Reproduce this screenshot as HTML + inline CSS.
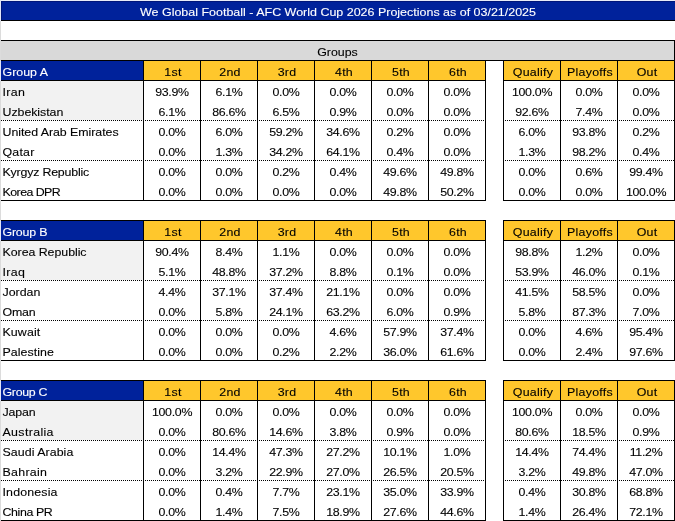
<!DOCTYPE html>
<html lang="en"><head><meta charset="utf-8"><title>AFC World Cup 2026 Projections</title>
<style>
html,body{margin:0;padding:0;background:#fff;}
body{width:675px;height:521px;overflow:hidden;position:relative;}
#sheet{position:absolute;left:0;top:0;width:675px;height:521px;background:#fff;
  font-family:"Liberation Sans",sans-serif;font-size:12.4px;color:#000;
  border-left:1px solid #dcdcdc;border-top:1px solid #e8ecf8;box-sizing:border-box;}
.r{display:flex;height:20px;box-sizing:border-box;width:674px;border-bottom:1px solid #000;position:relative;}
.r .t{position:absolute;top:4px;white-space:nowrap;line-height:15px;transform:scaleY(0.93);transform-origin:50% 12px;-webkit-text-stroke:0.12px currentColor;}
.title{background:#00229b;color:#fff;justify-content:center;}
.title .t{left:0;right:0;text-align:center;}
.blank2{background:#fff;}
.groups{background:#d9d9d9;border-right:1px solid #000;}
.groups .t{left:0;right:0;text-align:center;}
.spacer{border-bottom:none;background:linear-gradient(90deg,#000 0,#000 485px,#fff 485px,#fff 502px,#000 502px,#000 674px) left bottom/674px 1px no-repeat;}
.c{position:relative;box-sizing:border-box;height:20px;width:57px;border-right:1px solid #000;border-bottom:1px solid #000;flex:none;}
.c.name{width:143px;}
.c.gap{width:18px;border-bottom:none;}
.hdr,.team{border-bottom:none;}
.hdr .name{background:#00229b;color:#fff;}
.hdr .h{background:#ffc72c;}
.hdr .gap{background:#fff;}
.c .t{left:0;right:0;text-align:center;}
.c.name .t{left:1.5px;right:auto;text-align:left;}
.team .c{border-bottom:none;background:#fff;}
.team.top .name{background:#f2f2f2;}
.team.last .c{border-bottom:1px solid #000;}
.team.last .gap{border-bottom:none;}
.team.dot .c:not(.gap)::after{content:"";position:absolute;left:0;right:0;bottom:0;height:1px;
  background:repeating-linear-gradient(90deg,#000 0 1px,#fff 1px 2px);}
.team.dot .c:nth-child(2)::after,.team.dot .c:nth-child(4)::after,.team.dot .c:nth-child(6)::after,.team.dot .c:nth-child(9)::after,.team.dot .c:nth-child(11)::after{
  background:repeating-linear-gradient(90deg,#fff 0 1px,#000 1px 2px);}
.c.v .t{letter-spacing:-0.3px;}
.c.h .t{letter-spacing:0.25px;padding-left:2px;}
.title .t{font-size:12.5px;letter-spacing:-0.015px;}
.title{box-shadow:-1px 0 0 #e2e6f8,inset 1px 1px 0 #00167a;}
.hdr .name{box-shadow:-1px 0 0 #e2e6f8;}
</style></head><body>
<div id="sheet">
<div class="r title"><span class="t">We Global Football - AFC World Cup 2026 Projections as of 03/21/2025</span></div>
<div class="r blank2"></div>
<div class="r groups"><span class="t">Groups</span></div>
<div class="r hdr first"><div class="c name"><span class="t">Group A</span></div><div class="c h"><span class="t">1st</span></div><div class="c h"><span class="t">2nd</span></div><div class="c h"><span class="t">3rd</span></div><div class="c h"><span class="t">4th</span></div><div class="c h"><span class="t">5th</span></div><div class="c h"><span class="t">6th</span></div><div class="c gap"></div><div class="c h"><span class="t">Qualify</span></div><div class="c h"><span class="t">Playoffs</span></div><div class="c h"><span class="t">Out</span></div></div>
<div class="r team top"><div class="c name"><span class="t" style="letter-spacing:0.35px">Iran</span></div><div class="c v"><span class="t">93.9%</span></div><div class="c v"><span class="t">6.1%</span></div><div class="c v"><span class="t">0.0%</span></div><div class="c v"><span class="t">0.0%</span></div><div class="c v"><span class="t">0.0%</span></div><div class="c v"><span class="t">0.0%</span></div><div class="c gap"></div><div class="c v"><span class="t">100.0%</span></div><div class="c v"><span class="t">0.0%</span></div><div class="c v"><span class="t">0.0%</span></div></div>
<div class="r team top dot"><div class="c name"><span class="t" style="letter-spacing:-0.05px">Uzbekistan</span></div><div class="c v"><span class="t">6.1%</span></div><div class="c v"><span class="t">86.6%</span></div><div class="c v"><span class="t">6.5%</span></div><div class="c v"><span class="t">0.9%</span></div><div class="c v"><span class="t">0.0%</span></div><div class="c v"><span class="t">0.0%</span></div><div class="c gap"></div><div class="c v"><span class="t">92.6%</span></div><div class="c v"><span class="t">7.4%</span></div><div class="c v"><span class="t">0.0%</span></div></div>
<div class="r team"><div class="c name"><span class="t" style="letter-spacing:-0.05px">United Arab Emirates</span></div><div class="c v"><span class="t">0.0%</span></div><div class="c v"><span class="t">6.0%</span></div><div class="c v"><span class="t">59.2%</span></div><div class="c v"><span class="t">34.6%</span></div><div class="c v"><span class="t">0.2%</span></div><div class="c v"><span class="t">0.0%</span></div><div class="c gap"></div><div class="c v"><span class="t">6.0%</span></div><div class="c v"><span class="t">93.8%</span></div><div class="c v"><span class="t">0.2%</span></div></div>
<div class="r team dot"><div class="c name"><span class="t" style="letter-spacing:0.2px">Qatar</span></div><div class="c v"><span class="t">0.0%</span></div><div class="c v"><span class="t">1.3%</span></div><div class="c v"><span class="t">34.2%</span></div><div class="c v"><span class="t">64.1%</span></div><div class="c v"><span class="t">0.4%</span></div><div class="c v"><span class="t">0.0%</span></div><div class="c gap"></div><div class="c v"><span class="t">1.3%</span></div><div class="c v"><span class="t">98.2%</span></div><div class="c v"><span class="t">0.4%</span></div></div>
<div class="r team"><div class="c name"><span class="t" style="letter-spacing:-0.2px">Kyrgyz Republic</span></div><div class="c v"><span class="t">0.0%</span></div><div class="c v"><span class="t">0.0%</span></div><div class="c v"><span class="t">0.2%</span></div><div class="c v"><span class="t">0.4%</span></div><div class="c v"><span class="t">49.6%</span></div><div class="c v"><span class="t">49.8%</span></div><div class="c gap"></div><div class="c v"><span class="t">0.0%</span></div><div class="c v"><span class="t">0.6%</span></div><div class="c v"><span class="t">99.4%</span></div></div>
<div class="r team last"><div class="c name"><span class="t" style="letter-spacing:-0.55px">Korea DPR</span></div><div class="c v"><span class="t">0.0%</span></div><div class="c v"><span class="t">0.0%</span></div><div class="c v"><span class="t">0.0%</span></div><div class="c v"><span class="t">0.0%</span></div><div class="c v"><span class="t">49.8%</span></div><div class="c v"><span class="t">50.2%</span></div><div class="c gap"></div><div class="c v"><span class="t">0.0%</span></div><div class="c v"><span class="t">0.0%</span></div><div class="c v"><span class="t">100.0%</span></div></div>
<div class="r spacer"></div>
<div class="r hdr"><div class="c name"><span class="t" style="letter-spacing:-0.2px">Group B</span></div><div class="c h"><span class="t">1st</span></div><div class="c h"><span class="t">2nd</span></div><div class="c h"><span class="t">3rd</span></div><div class="c h"><span class="t">4th</span></div><div class="c h"><span class="t">5th</span></div><div class="c h"><span class="t">6th</span></div><div class="c gap"></div><div class="c h"><span class="t">Qualify</span></div><div class="c h"><span class="t">Playoffs</span></div><div class="c h"><span class="t">Out</span></div></div>
<div class="r team top"><div class="c name"><span class="t" style="letter-spacing:-0.05px">Korea Republic</span></div><div class="c v"><span class="t">90.4%</span></div><div class="c v"><span class="t">8.4%</span></div><div class="c v"><span class="t">1.1%</span></div><div class="c v"><span class="t">0.0%</span></div><div class="c v"><span class="t">0.0%</span></div><div class="c v"><span class="t">0.0%</span></div><div class="c gap"></div><div class="c v"><span class="t">98.8%</span></div><div class="c v"><span class="t">1.2%</span></div><div class="c v"><span class="t">0.0%</span></div></div>
<div class="r team top dot"><div class="c name"><span class="t" style="letter-spacing:0.35px">Iraq</span></div><div class="c v"><span class="t">5.1%</span></div><div class="c v"><span class="t">48.8%</span></div><div class="c v"><span class="t">37.2%</span></div><div class="c v"><span class="t">8.8%</span></div><div class="c v"><span class="t">0.1%</span></div><div class="c v"><span class="t">0.0%</span></div><div class="c gap"></div><div class="c v"><span class="t">53.9%</span></div><div class="c v"><span class="t">46.0%</span></div><div class="c v"><span class="t">0.1%</span></div></div>
<div class="r team"><div class="c name"><span class="t">Jordan</span></div><div class="c v"><span class="t">4.4%</span></div><div class="c v"><span class="t">37.1%</span></div><div class="c v"><span class="t">37.4%</span></div><div class="c v"><span class="t">21.1%</span></div><div class="c v"><span class="t">0.0%</span></div><div class="c v"><span class="t">0.0%</span></div><div class="c gap"></div><div class="c v"><span class="t">41.5%</span></div><div class="c v"><span class="t">58.5%</span></div><div class="c v"><span class="t">0.0%</span></div></div>
<div class="r team dot"><div class="c name"><span class="t" style="letter-spacing:-0.2px">Oman</span></div><div class="c v"><span class="t">0.0%</span></div><div class="c v"><span class="t">5.8%</span></div><div class="c v"><span class="t">24.1%</span></div><div class="c v"><span class="t">63.2%</span></div><div class="c v"><span class="t">6.0%</span></div><div class="c v"><span class="t">0.9%</span></div><div class="c gap"></div><div class="c v"><span class="t">5.8%</span></div><div class="c v"><span class="t">87.3%</span></div><div class="c v"><span class="t">7.0%</span></div></div>
<div class="r team"><div class="c name"><span class="t" style="letter-spacing:0.1px">Kuwait</span></div><div class="c v"><span class="t">0.0%</span></div><div class="c v"><span class="t">0.0%</span></div><div class="c v"><span class="t">0.0%</span></div><div class="c v"><span class="t">4.6%</span></div><div class="c v"><span class="t">57.9%</span></div><div class="c v"><span class="t">37.4%</span></div><div class="c gap"></div><div class="c v"><span class="t">0.0%</span></div><div class="c v"><span class="t">4.6%</span></div><div class="c v"><span class="t">95.4%</span></div></div>
<div class="r team last"><div class="c name"><span class="t" style="letter-spacing:0.05px">Palestine</span></div><div class="c v"><span class="t">0.0%</span></div><div class="c v"><span class="t">0.0%</span></div><div class="c v"><span class="t">0.2%</span></div><div class="c v"><span class="t">2.2%</span></div><div class="c v"><span class="t">36.0%</span></div><div class="c v"><span class="t">61.6%</span></div><div class="c gap"></div><div class="c v"><span class="t">0.0%</span></div><div class="c v"><span class="t">2.4%</span></div><div class="c v"><span class="t">97.6%</span></div></div>
<div class="r spacer"></div>
<div class="r hdr"><div class="c name"><span class="t" style="letter-spacing:-0.3px">Group C</span></div><div class="c h"><span class="t">1st</span></div><div class="c h"><span class="t">2nd</span></div><div class="c h"><span class="t">3rd</span></div><div class="c h"><span class="t">4th</span></div><div class="c h"><span class="t">5th</span></div><div class="c h"><span class="t">6th</span></div><div class="c gap"></div><div class="c h"><span class="t">Qualify</span></div><div class="c h"><span class="t">Playoffs</span></div><div class="c h"><span class="t">Out</span></div></div>
<div class="r team top"><div class="c name"><span class="t" style="letter-spacing:-0.15px">Japan</span></div><div class="c v"><span class="t">100.0%</span></div><div class="c v"><span class="t">0.0%</span></div><div class="c v"><span class="t">0.0%</span></div><div class="c v"><span class="t">0.0%</span></div><div class="c v"><span class="t">0.0%</span></div><div class="c v"><span class="t">0.0%</span></div><div class="c gap"></div><div class="c v"><span class="t">100.0%</span></div><div class="c v"><span class="t">0.0%</span></div><div class="c v"><span class="t">0.0%</span></div></div>
<div class="r team top dot"><div class="c name"><span class="t" style="letter-spacing:0.35px">Australia</span></div><div class="c v"><span class="t">0.0%</span></div><div class="c v"><span class="t">80.6%</span></div><div class="c v"><span class="t">14.6%</span></div><div class="c v"><span class="t">3.8%</span></div><div class="c v"><span class="t">0.9%</span></div><div class="c v"><span class="t">0.0%</span></div><div class="c gap"></div><div class="c v"><span class="t">80.6%</span></div><div class="c v"><span class="t">18.5%</span></div><div class="c v"><span class="t">0.9%</span></div></div>
<div class="r team"><div class="c name"><span class="t" style="letter-spacing:0.05px">Saudi Arabia</span></div><div class="c v"><span class="t">0.0%</span></div><div class="c v"><span class="t">14.4%</span></div><div class="c v"><span class="t">47.3%</span></div><div class="c v"><span class="t">27.2%</span></div><div class="c v"><span class="t">10.1%</span></div><div class="c v"><span class="t">1.0%</span></div><div class="c gap"></div><div class="c v"><span class="t">14.4%</span></div><div class="c v"><span class="t">74.4%</span></div><div class="c v"><span class="t">11.2%</span></div></div>
<div class="r team dot"><div class="c name"><span class="t" style="letter-spacing:0.3px">Bahrain</span></div><div class="c v"><span class="t">0.0%</span></div><div class="c v"><span class="t">3.2%</span></div><div class="c v"><span class="t">22.9%</span></div><div class="c v"><span class="t">27.0%</span></div><div class="c v"><span class="t">26.5%</span></div><div class="c v"><span class="t">20.5%</span></div><div class="c gap"></div><div class="c v"><span class="t">3.2%</span></div><div class="c v"><span class="t">49.8%</span></div><div class="c v"><span class="t">47.0%</span></div></div>
<div class="r team"><div class="c name"><span class="t" style="letter-spacing:0.15px">Indonesia</span></div><div class="c v"><span class="t">0.0%</span></div><div class="c v"><span class="t">0.4%</span></div><div class="c v"><span class="t">7.7%</span></div><div class="c v"><span class="t">23.1%</span></div><div class="c v"><span class="t">35.0%</span></div><div class="c v"><span class="t">33.9%</span></div><div class="c gap"></div><div class="c v"><span class="t">0.4%</span></div><div class="c v"><span class="t">30.8%</span></div><div class="c v"><span class="t">68.8%</span></div></div>
<div class="r team last"><div class="c name"><span class="t" style="letter-spacing:-0.4px">China PR</span></div><div class="c v"><span class="t">0.0%</span></div><div class="c v"><span class="t">1.4%</span></div><div class="c v"><span class="t">7.5%</span></div><div class="c v"><span class="t">18.9%</span></div><div class="c v"><span class="t">27.6%</span></div><div class="c v"><span class="t">44.6%</span></div><div class="c gap"></div><div class="c v"><span class="t">1.4%</span></div><div class="c v"><span class="t">26.4%</span></div><div class="c v"><span class="t">72.1%</span></div></div>
</div>
</body></html>
